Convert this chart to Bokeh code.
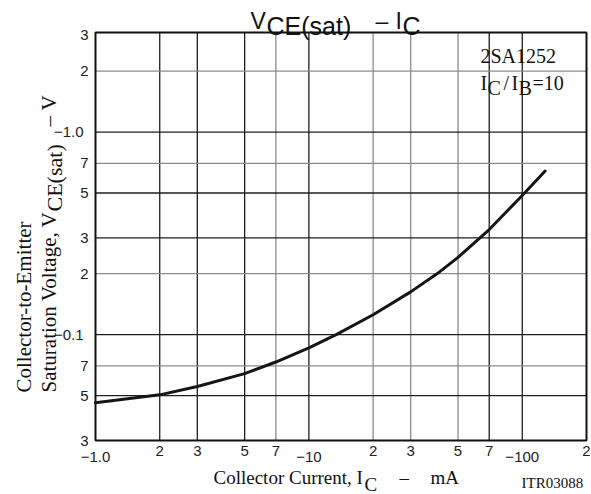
import math
from bokeh.plotting import figure
from bokeh.models import Label, Range1d, BoxAnnotation
from bokeh.core.properties import value
from bokeh.embed import file_html
from bokeh.resources import INLINE

# ---------------- data ----------------
ic_ma = [1, 2, 3, 5, 7, 10, 13.5, 20, 30, 40, 50, 70, 100, 128]
vce_sat_v = [0.0461, 0.0504, 0.0554, 0.0642, 0.0732, 0.0860, 0.1002, 0.1253,
             0.1625, 0.200, 0.2405, 0.330, 0.486, 0.642]

# axis ranges of the plot box
X_MIN, X_MAX = 1, 200
Y_MIN, Y_MAX = 0.03, 3.1

x_minor_ticks = [2, 3, 5, 7, 20, 30, 50, 70, 200]
x_minor_labels = ["2", "3", "5", "7", "2", "3", "5", "7", "2"]
x_decade_ticks = [1, 10, 100]
x_decade_labels = ["\u22121.0", "\u221210", "\u2212100"]

y_minor_ticks = [0.03, 0.05, 0.07, 0.2, 0.3, 0.5, 0.7, 2, 3]
y_minor_labels = ["3", "5", "7", "2", "3", "5", "7", "2", "3"]
y_decade_ticks = [0.1, 1.0]
y_decade_labels = ["\u22120.1", "\u22121.0"]

grid_x_dark = [2, 3, 5, 10, 70, 100]
grid_x_gray = [7, 20, 30, 50]
grid_y_dark = [0.05, 0.1, 0.3, 0.5, 1.0]
grid_y_gray = [0.07, 0.2, 0.7, 2]

# ---------------- layout (pixels) ----------------
W, H = 591, 494
PL, PR, PT, PB = 95, 586, 32, 440   # plot box edges on the canvas

kx = (PR - PL) / math.log10(X_MAX / X_MIN)
ky = (PB - PT) / math.log10(Y_MAX / Y_MIN)
x_range = Range1d(X_MIN * 10 ** (-PL / kx), X_MAX * 10 ** ((W - PR) / kx))
y_range = Range1d(Y_MIN * 10 ** (-(H - PB) / ky), Y_MAX * 10 ** (PT / ky))

p = figure(width=W, height=H, x_axis_type="log", y_axis_type="log",
           x_range=x_range, y_range=y_range,
           x_axis_location=None, y_axis_location=None,
           output_backend="svg", toolbar_location=None,
           min_border=0, min_border_left=0, min_border_right=0,
           min_border_top=0, min_border_bottom=0)
p.title.visible = False
p.outline_line_color = None
p.background_fill_color = "white"
p.border_fill_color = "white"
p.grid.visible = False

DARK = "#1e1e1e"
GRAY = "#8c8c8c"

# grid lines
for ticks, col in [(grid_x_gray, GRAY), (grid_x_dark, DARK)]:
    p.segment(x0=ticks, y0=[Y_MIN] * len(ticks), x1=ticks, y1=[Y_MAX] * len(ticks),
              line_color=col, line_width=1.3)
for ticks, col in [(grid_y_gray, GRAY), (grid_y_dark, DARK)]:
    p.segment(x0=[X_MIN] * len(ticks), y0=ticks, x1=[X_MAX] * len(ticks), y1=ticks,
              line_color=col, line_width=1.3)

# white box behind the annotation text
p.add_layout(BoxAnnotation(left=477, right=583, top=H - 34, bottom=H - 87,
                           left_units="screen", right_units="screen",
                           top_units="screen", bottom_units="screen",
                           fill_color="white", fill_alpha=1.0, line_color=None,
                           level="underlay"))

# plot box outline
p.quad(left=[X_MIN], right=[X_MAX], bottom=[Y_MIN], top=[Y_MAX],
       fill_color=None, line_color="#111111", line_width=2)

# curve
p.line(ic_ma, vce_sat_v, line_color="#151515", line_width=3,
       line_join="round", line_cap="round")

# tick labels
TICK_FONT = dict(text_font=value("Liberation Sans"), text_font_size=value("15px"),
                 text_color="#222222")
p.text(x=x_minor_ticks, y=[Y_MIN] * len(x_minor_ticks), text=x_minor_labels,
       y_offset=5, text_align="center", text_baseline="top", **TICK_FONT)
p.text(x=x_decade_ticks, y=[Y_MIN] * len(x_decade_ticks), text=x_decade_labels,
       y_offset=11, text_align="center", text_baseline="top", **TICK_FONT)
p.text(x=[X_MIN] * len(y_minor_ticks), y=y_minor_ticks, text=y_minor_labels,
       x_offset=-7, text_align="right", text_baseline="middle", **TICK_FONT)
p.text(x=[X_MIN] * len(y_decade_ticks), y=y_decade_ticks, text=y_decade_labels,
       x_offset=-12, text_align="right", text_baseline="middle", **TICK_FONT)


def put(text, px, py, size, font="Liberation Serif", angle=0.0, color="#111111"):
    p.add_layout(Label(x=px, y=H - py, x_units="screen", y_units="screen",
                       text=text, text_font=font, text_font_size=f"{size}px",
                       text_color=color, text_align="left",
                       text_baseline="alphabetic", angle=angle))


SANS = "Liberation Sans"
# title: V_CE(sat) - I_C
put("V", 250, 20, 23, SANS)
put("CE(sat)", 266, 25, 25, SANS)
put("\u2013", 375, 20, 23, SANS)
put("I", 395, 20, 23, SANS)
put("C", 402, 25, 25, SANS)

# x axis label
put("Collector Current, I", 213, 477, 19)
put("C", 364, 484, 19)
put("\u2013", 399, 477, 19)
put("mA", 430, 477, 19)
put("ITR03088", 521, 482, 15)

# y axis label (rotated)
R = math.pi / 2
put("Collector-to-Emitter", 23, 392, 21, angle=R)
put("Saturation Voltage, V", 48, 392, 21, angle=R)
put("CE(sat)", 54, 211, 22, angle=R)
put("\u2013", 48, 126, 21, angle=R)
put("V", 48, 110, 21, angle=R)

# annotation
put("2SA1252", 480, 55, 20)
put("I", 480, 82, 20)
put("C", 487, 87, 20)
put("/", 503, 82, 20)
put("I", 511, 82, 20)
put("B", 518, 87, 20)
put("=10", 532, 82, 20)

open("out.html", "w").write(file_html(p, INLINE))
